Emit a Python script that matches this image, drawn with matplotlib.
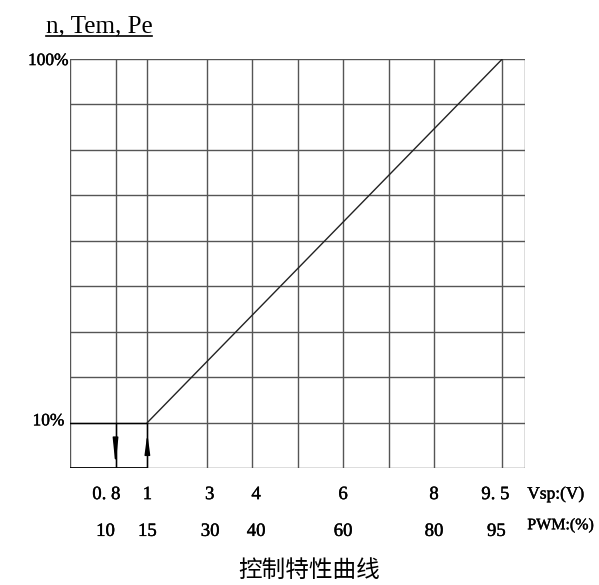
import matplotlib
matplotlib.use('Agg')
import matplotlib.pyplot as plt
from matplotlib.lines import Line2D
import matplotlib.patheffects as pe

# данные (ось x в % ШИМ, ось y в %)
grid_x = [10, 17, 30, 40, 50, 60, 70, 80, 95]
label_x = [10, 17, 30, 40, 60, 80, 95]
vsp_labels = ['0. 8', '1', '3', '4', '6', '8', '9. 5']
pwm_labels = ['10', '15', '30', '40', '60', '80', '95']
grid_y = [10 + 11.25 * k for k in range(9)]
curve_x = [17, 95]
curve_y = [10, 100]

serif = 'Liberation Serif'
bold = [pe.withStroke(linewidth=0.3, foreground='black')]

fig = plt.figure(figsize=(5.99, 5.85), dpi=100)
ax = fig.add_axes([0.1169, 0.2, 0.7596, 0.6991])
ax.set_xlim(0, 100)
ax.set_ylim(-1.25, 100)
ax.axis('off')

gc = '#555555'
for x in grid_x:
    ax.axvline(x, color=gc, lw=1)
for y in grid_y:
    ax.axhline(y, color=gc, lw=1)
ax.axvline(0, color=gc, lw=1)
ax.axvline(100, color=gc, lw=1)
ax.axhline(-1.25, color=gc, lw=1)

# тёмные участки около 10%
ax.plot([0, 17], [10, 10], color='black', lw=1)
ax.plot([0, 17], [-1.25, -1.25], color='black', lw=1.3)
ax.plot([10, 10], [-1.25, 10], color='black', lw=1)
ax.plot([17, 17], [-1.25, 10], color='black', lw=1)

# характеристика
ax.plot(curve_x, curve_y, color='#222222', lw=1)

# стрелки
ax.annotate('', xy=(10, -0.6), xytext=(10, 4.8),
            arrowprops=dict(arrowstyle='-|>,head_length=1.55,head_width=0.16',
                            color='black', lw=1, shrinkA=0, shrinkB=0, mutation_scale=10))
ax.annotate('', xy=(17, 7.3), xytext=(17, 3.0),
            arrowprops=dict(arrowstyle='-|>,head_length=1.2,head_width=0.16',
                            color='black', lw=1, shrinkA=0, shrinkB=0, mutation_scale=10))

# подписи оси y
ax.text(-0.3, 99.5, '100%', ha='right', va='center', fontsize=12.5, family=serif, path_effects=bold)
ax.text(-1.2, 10.3, '10%', ha='right', va='center', fontsize=12.5, family=serif, path_effects=bold)

# подписи оси x
shift = {'0. 8': -2, '3': 0.7, '4': 0.9, '9. 5': -1.5,
         '10': -2.2, '30': 0.8, '40': 0.9, '95': -1.3}
tr = ax.get_xaxis_transform()
for x, v, p in zip(label_x, vsp_labels, pwm_labels):
    ax.text(x + shift.get(v, 0), -0.065, v, transform=tr, ha='center', va='center',
            fontsize=13.5, family=serif, path_effects=bold)
    ax.text(x + shift.get(p, 0), -0.155, p, transform=tr, ha='center', va='center',
            fontsize=13.5, family=serif, path_effects=bold)
ax.text(100.5, -0.065, 'Vsp:(V)', transform=tr, ha='left', va='center', fontsize=12.5,
        family=serif, path_effects=bold)
ax.text(100.5, -0.14, 'PWM:(%)', transform=tr, ha='left', va='center', fontsize=11.5,
        family=serif, path_effects=bold)

# заголовки
t = fig.text(0.076, 0.955, 'n, Tem, Pe', ha='left', va='center', fontsize=18, family=serif)
fig.text(0.516, 0.025, '控制特性曲线', ha='center', va='center', fontsize=17,
         family=['Noto Sans CJK SC', 'DejaVu Sans'])

fig.canvas.draw()
bb = t.get_window_extent().transformed(fig.transFigure.inverted())
fig.add_artist(Line2D([bb.x0, bb.x1], [bb.y0 + 0.002, bb.y0 + 0.002], color='black', lw=1.2))

fig.savefig('out.png', dpi=100)
